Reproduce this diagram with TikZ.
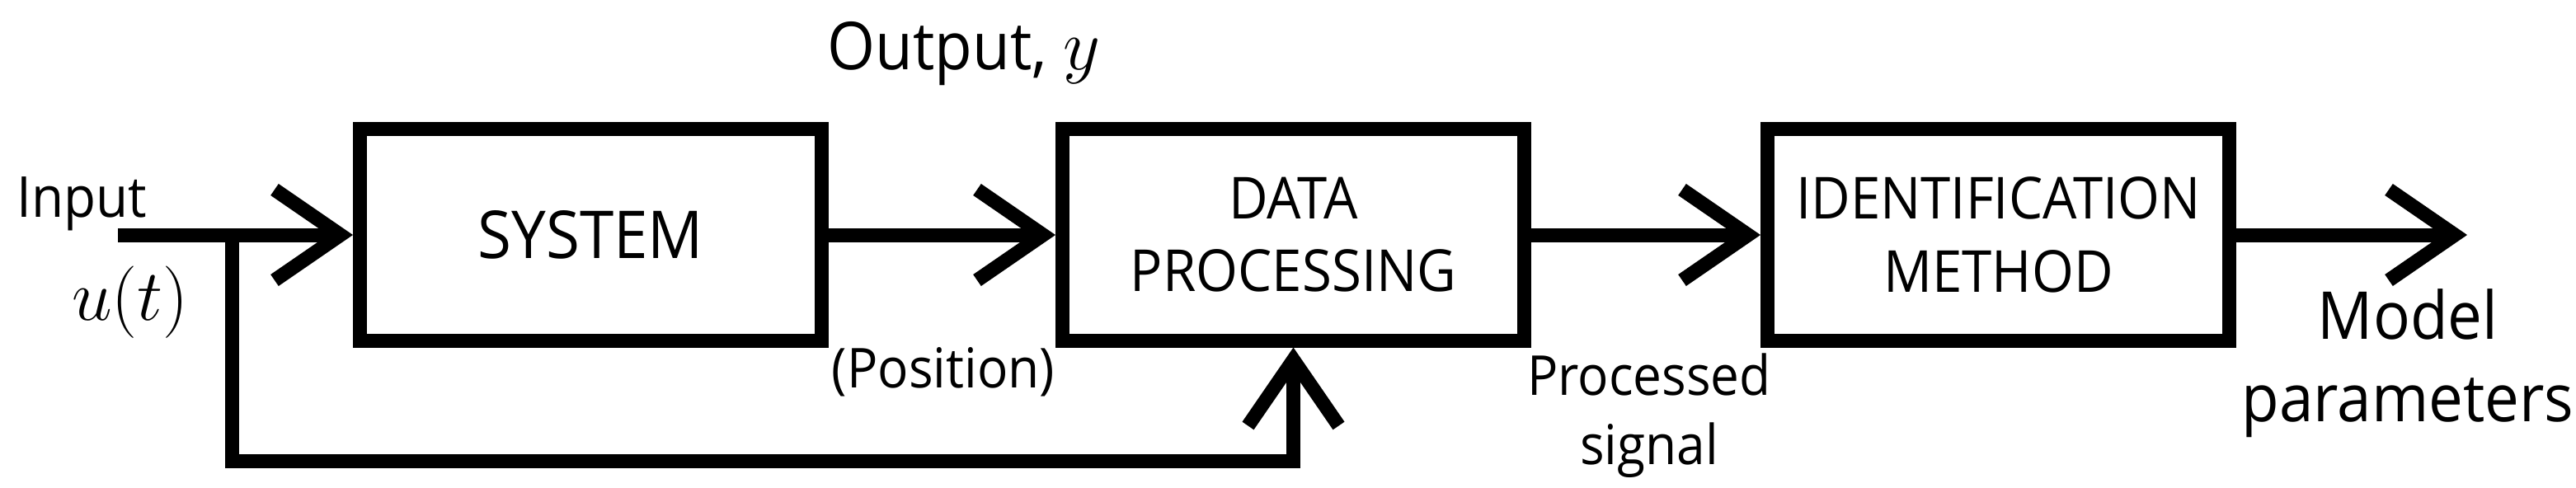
\documentclass[tikz,border=0pt]{standalone}
\usepackage{amsmath}
\usepackage{fontspec}
\setmainfont{Open Sans}[FakeStretch=0.93]
\usepackage{tikz}
\usetikzlibrary{arrows.meta,positioning}

\begin{document}
\begin{tikzpicture}[
    box/.style={draw, line width=1.7mm, minimum width=5.6cm, minimum height=2.56cm, align=center, inner sep=0pt},
    arr/.style={line width=1.7mm, -{Straight Barb[length=8mm, width=11mm]}},
    lbl/.style={inner sep=0pt},
    node distance=2.75cm
]
\useasboundingbox (0,0) rectangle (31.24,-5.92);

\node[box, font=\fontsize{22.8}{27}\selectfont] (sys) at (7.165,-2.85) {SYSTEM};
\node[box, right=of sys, font=\fontsize{20}{25}\selectfont] (proc) {DATA\\PROCESSING};
\node[box, right=2.78cm of proc, font=\fontsize{20}{25.5}\selectfont] (ident) {IDENTIFICATION\\METHOD};

\coordinate (in) at (1.43,-2.85);
\coordinate (split) at (2.81,-2.85);
\coordinate (fb) at (2.81,-5.59);
\coordinate (out) at (29.92,-2.85);

% labels
\node[lbl, anchor=base west, font=\fontsize{19.5}{19.5}\selectfont] (inlbl) at (0.20,-2.63) {Input};
\node[lbl, anchor=base, font=\fontsize{26}{26}\selectfont] (ulbl) at (1.58,-3.88) {$u(t)$};
\node[lbl, anchor=base west, font=\fontsize{22.8}{22.8}\selectfont] (outlbl) at (10.03,-0.85) {Output, {\fontsize{28}{28}\selectfont$y$}};
\node[lbl, anchor=base, font=\fontsize{19}{19}\selectfont] (poslbl) at (11.44,-4.70) {(Position)};
\node[lbl, anchor=north, align=center, font=\fontsize{19}{24}\selectfont] (siglbl) at (20.0,-4.28) {Processed\\signal};
\node[lbl, anchor=north, align=center, font=\fontsize{22.8}{28.5}\selectfont] (parlbl) at (29.2,-3.50) {Model\\parameters};

\draw[arr] (in) -- (sys);
\draw[arr] (sys) -- (proc);
\draw[arr] (proc) -- (ident);
\draw[arr] (ident) -- (out);
\draw[arr] (split) -- (fb) -| (proc.south);
\end{tikzpicture}
\end{document}
